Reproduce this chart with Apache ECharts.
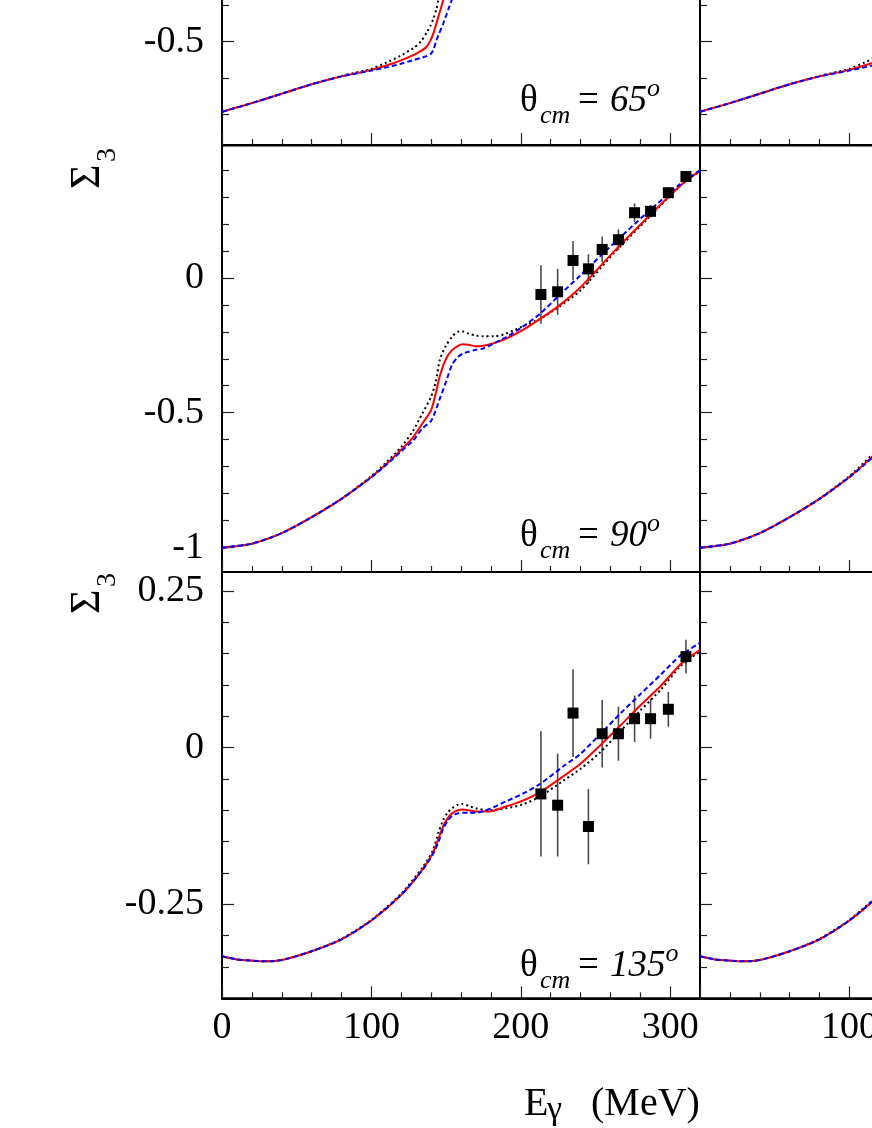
<!DOCTYPE html>
<html>
<head>
<meta charset="utf-8">
<script src="https://cdn.jsdelivr.net/npm/echarts@6/dist/echarts.min.js"></script>
<style>html,body{margin:0;padding:0;background:#fff;}#c{width:872px;height:1128px;}</style>
</head>
<body>
<div id="c"></div>
<script>
// ---------- data ----------
// theta_cm = 65 deg panel
const E65   = [0,20,40,60,80,100,110,119,128,133,137,139.5,141.5,143.5,145,148,152,156,160];
const red65 = [-0.694,-0.670,-0.644,-0.618,-0.596,-0.578,-0.566,-0.553,-0.537,-0.526,-0.514,-0.497,-0.477,-0.450,-0.429,-0.387,-0.330,-0.270,-0.210];
const blue65= [-0.694,-0.670,-0.644,-0.618,-0.596,-0.580,-0.571,-0.562,-0.551,-0.545,-0.540,-0.535,-0.522,-0.497,-0.481,-0.451,-0.405,-0.360,-0.310];
const dot65 = [-0.694,-0.670,-0.644,-0.618,-0.595,-0.575,-0.558,-0.540,-0.518,-0.500,-0.475,-0.456,-0.437,-0.410,-0.382,-0.340,-0.280,-0.220,-0.160];
// theta_cm = 90 deg panel
const E90   = [0,20,40,60,80,100,110,120,128,134,140,143,146,150,154,158,161,165,170,175,182,190,200,213,225,240,262,285,307,320];
const red90 = [-1.000,-0.985,-0.946,-0.887,-0.819,-0.738,-0.690,-0.637,-0.590,-0.541,-0.490,-0.430,-0.360,-0.300,-0.268,-0.252,-0.246,-0.248,-0.254,-0.252,-0.242,-0.226,-0.198,-0.152,-0.106,-0.035,0.095,0.224,0.342,0.397];
const blue90= [-1.000,-0.985,-0.946,-0.887,-0.819,-0.739,-0.693,-0.643,-0.603,-0.559,-0.530,-0.492,-0.445,-0.385,-0.322,-0.293,-0.282,-0.274,-0.267,-0.262,-0.243,-0.221,-0.186,-0.133,-0.069,0.009,0.126,0.243,0.348,0.398];
const dot90 = [-1.000,-0.985,-0.946,-0.887,-0.818,-0.735,-0.684,-0.627,-0.566,-0.504,-0.440,-0.387,-0.300,-0.251,-0.218,-0.200,-0.199,-0.207,-0.214,-0.217,-0.217,-0.207,-0.183,-0.152,-0.110,-0.047,0.089,0.219,0.342,0.395];
// theta_cm = 135 deg panel
const E135   = [0,10,20,29,40,60,80,100,120,134,141,145,148,151,154,158,161,165,170,179,190,201,213,229,240,253,267,280,294,307,320];
const red135 = [-0.333,-0.338,-0.340,-0.341,-0.339,-0.325,-0.306,-0.276,-0.235,-0.195,-0.169,-0.145,-0.126,-0.113,-0.105,-0.100,-0.099,-0.100,-0.102,-0.102,-0.094,-0.085,-0.071,-0.045,-0.026,0.003,0.036,0.067,0.099,0.133,0.156];
const blue135= [-0.333,-0.338,-0.340,-0.341,-0.339,-0.325,-0.306,-0.276,-0.235,-0.196,-0.171,-0.150,-0.130,-0.117,-0.109,-0.105,-0.104,-0.104,-0.104,-0.098,-0.086,-0.074,-0.058,-0.029,-0.010,0.021,0.055,0.085,0.117,0.147,0.167];
const dot135 = [-0.333,-0.338,-0.340,-0.341,-0.339,-0.325,-0.305,-0.275,-0.233,-0.192,-0.165,-0.135,-0.116,-0.104,-0.097,-0.091,-0.090,-0.093,-0.097,-0.100,-0.097,-0.091,-0.078,-0.052,-0.034,-0.008,0.027,0.059,0.093,0.130,0.153];
// measured points
const dataE  = [213.5,224.7,235.0,245.3,254.5,265.4,276.2,286.9,298.8,310.6];
const sig90  = [-0.062,-0.052,0.064,0.033,0.105,0.141,0.241,0.246,0.315,0.375];
const err90  = [0.108,0.085,0.072,0.054,0.048,0.038,0.034,0.024,0.021,0.020];
const sig135 = [-0.074,-0.092,0.055,-0.126,0.022,0.022,0.046,0.046,0.061,0.145];
const err135 = [0.100,0.082,0.070,0.060,0.054,0.043,0.037,0.032,0.028,0.027];
// ticks / labels
const xMajor = [0,100,200,300];
const xMinor = [20,40,60,80,120,140,160,180,220,240,260,280];
const xLabelsLeft  = [0,100,200,300];
const xLabelsRight = [100,200,300];
const y65Major = [-0.5,0];
const y65Minor = [-7,-6,-4,-3,-2,-1,1,2,3].map(v=>v/10);
const y90Major = [-1,-0.5,0];
const y90Minor = [-9,-8,-7,-6,-4,-3,-2,-1,1,2,3,4].map(v=>v/10);
const y135Major = [-0.25,0,0.25];
const y135Minor = [-7,-6,-4,-3,-2,-1,1,2,3,4].map(v=>v/20);
const angleLabels = ['65','90','135'];

// ---------- layout ----------
const FONT = 'Liberation Serif';
const colLeft = [222, 700];
const colWidth = 478;
const rows = [
  {top:-281.5, height:426.5, min:-0.786, max:0.395, major:y65Major, minor:y65Minor, labels:y65Major},
  {top:145.5, height:426.5, min:-1.09, max:0.49, major:y90Major, minor:y90Minor, labels:y90Major},
  {top:572, height:426.3, min:-0.40, max:0.28, major:y135Major, minor:y135Minor, labels:y135Major}
];
const curves = [
  {E:E65, red:red65, blue:blue65, dot:dot65},
  {E:E90, red:red90, blue:blue90, dot:dot90, sig:sig90, err:err90},
  {E:E135, red:red135, blue:blue135, dot:dot135, sig:sig135, err:err135}
];

const grid = [], xAxis = [], yAxis = [], series = [];
const tickStyle = {color:'#222', width:1.2};

for (let c = 0; c < 2; c++) {
  for (let r = 0; r < 3; r++) {
    const row = rows[r];
    const gi = grid.length;
    grid.push({left:colLeft[c], top:row.top, width:colWidth, height:row.height,
      outerBoundsMode:'none', containLabel:false,
      show:true, borderColor:'#000', borderWidth:2, backgroundColor:'transparent'});
    const isBottom = r === 2;
    const xl = isBottom ? (c === 0 ? xLabelsLeft : xLabelsRight) : null;
    const xi = xAxis.length;
    xAxis.push({type:'value', gridIndex:gi, min:0, max:320, position:'bottom',
      axisLine:{show:true, onZero:false, lineStyle:{color:'#000', width:2}},
      axisTick:{show:true, inside:true, length:12, customValues:xMajor, lineStyle:tickStyle},
      axisLabel: xl ? {show:true, customValues:xl, margin:11, fontFamily:FONT, fontSize:38, color:'#000'} : {show:false},
      splitLine:{show:false}});
    xAxis.push({type:'value', gridIndex:gi, min:0, max:320, position:'bottom',
      axisLine:{show:false, onZero:false},
      axisTick:{show:true, inside:true, length:6, customValues:xMinor, lineStyle:tickStyle},
      axisLabel:{show:false}, splitLine:{show:false}});
    const yi = yAxis.length;
    yAxis.push({type:'value', gridIndex:gi, min:row.min, max:row.max, position:'left',
      axisLine:{show:true, onZero:false, lineStyle:{color:'#000', width:2}},
      axisTick:{show:true, inside:true, length:12, customValues:row.major, lineStyle:tickStyle},
      axisLabel: c === 0 ? {show:true, customValues:row.labels, margin:18, fontFamily:FONT, fontSize:38, color:'#000'} : {show:false},
      splitLine:{show:false}});
    yAxis.push({type:'value', gridIndex:gi, min:row.min, max:row.max, position:'left',
      axisLine:{show:false, onZero:false},
      axisTick:{show:true, inside:true, length:7, customValues:row.minor, lineStyle:tickStyle},
      axisLabel:{show:false}, splitLine:{show:false}});

    const cv = curves[r];
    const mk = arr => cv.E.map((e,i)=>[e, arr[i]]);
    const base = {type:'line', xAxisIndex:xi, yAxisIndex:yi, showSymbol:false, smooth:0.25, silent:true, clip:true};
    series.push(Object.assign({}, base, {data:mk(cv.dot), lineStyle:{color:'#000', width:2, type:[2,3]}}));
    series.push(Object.assign({}, base, {data:mk(cv.red), lineStyle:{color:'#ff0000', width:2}}));
    series.push(Object.assign({}, base, {data:mk(cv.blue), lineStyle:{color:'#0000ff', width:2, type:[5,3]}}));
    if (cv.sig) {
      const pts = dataE.map((e,i)=>[e, cv.sig[i], cv.err[i]]);
      series.push({type:'custom', xAxisIndex:xi, yAxisIndex:yi, data:pts, clip:true, silent:true,
        renderItem:function(params, api){
          const x = api.value(0), y = api.value(1), e = api.value(2);
          const p1 = api.coord([x, y + e]), p2 = api.coord([x, y - e]);
          return {type:'line', shape:{x1:p1[0], y1:p1[1], x2:p2[0], y2:p2[1]},
                  style:{stroke:'#4a4a4a', lineWidth:1.6}};
        }});
      series.push({type:'scatter', xAxisIndex:xi, yAxisIndex:yi, data:pts.map(p=>[p[0],p[1]]),
        symbol:'rect', symbolSize:11, itemStyle:{color:'#000', opacity:1}, silent:true, clip:true, z:5});
    }
  }
}

// ---------- text annotations ----------
function txt(x, baseline, s, size, italic) {
  return {type:'text', x:x, y:baseline - 0.3375*size, silent:true,
    style:{text:s, font:(italic?'italic ':'') + size + 'px "' + FONT + '"', fill:'#000',
           align:'left', verticalAlign:'middle', textAlign:'left', textVerticalAlign:'middle'}};
}
const graphics = [];
const labelBase = [113.3, 548.3, 978.3];
for (let r = 0; r < 3; r++) {
  const B = labelBase[r], num = angleLabels[r];
  graphics.push(txt(520, B, 'θ', 37, false));
  graphics.push(txt(540, B + 12, 'cm', 26, true));
  graphics.push(txt(578, B, '=', 37, false));
  graphics.push(txt(610, B, num, 37, true));
  graphics.push(txt(610 + 18.5*num.length, B - 15, 'o', 26, true));
}
// axis title
graphics.push(txt(524, 1117.7, 'E', 40, false));
graphics.push(txt(547, 1121.5, 'γ', 34, false));
graphics.push(txt(591, 1117.7, '(MeV)', 40, false));
// rotated Sigma_3 titles
[189, 614].forEach(function(by){
  graphics.push({type:'group', x:102, y:by, rotation:Math.PI/2, silent:true,
    children:[
      {type:'text', x:0, y:-0.3375*42, style:{text:'Σ', font:'42px "' + FONT + '"', fill:'#000', align:'left', verticalAlign:'middle', textAlign:'left', textVerticalAlign:'middle'}},
      {type:'text', x:27, y:15 - 0.3375*28, style:{text:'3', font:'28px "' + FONT + '"', fill:'#000', align:'left', verticalAlign:'middle', textAlign:'left', textVerticalAlign:'middle'}}
    ]});
});

const chart = echarts.init(document.getElementById('c'), null, {renderer:'canvas'});
chart.setOption({
  animation:false,
  backgroundColor:'#fff',
  grid:grid, xAxis:xAxis, yAxis:yAxis, series:series, graphic:graphics
});
</script>
</body>
</html>
